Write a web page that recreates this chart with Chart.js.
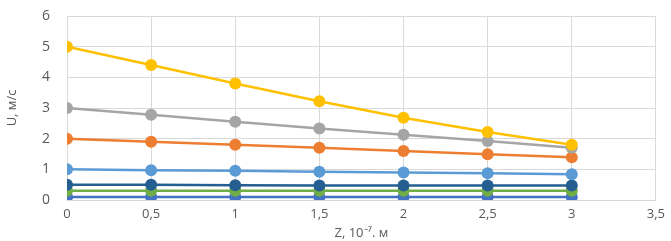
<!DOCTYPE html>
<html>
<head>
<meta charset="utf-8">
<script src="https://cdn.jsdelivr.net/npm/chart.js@4/dist/chart.umd.min.js"></script>
<style>
  html, body { margin: 0; padding: 0; background: #fff; }
  #wrap { width: 671px; height: 241px; }
</style>
</head>
<body>
<div id="wrap"><canvas id="chart" width="671" height="241"></canvas></div>
<script>
// positions along Z, 10^-7 m
const zValues = [0, 0.5, 1, 1.5, 2, 2.5, 3];

// U, m/s for each curve
const seriesYellow = [5, 4.4, 3.8, 3.22, 2.68, 2.22, 1.8];
const seriesGray = [3, 2.78, 2.55, 2.33, 2.13, 1.92, 1.7];
const seriesOrange = [2, 1.9, 1.8, 1.7, 1.6, 1.49, 1.39];
const seriesLightBlue = [1, 0.97, 0.95, 0.92, 0.9, 0.87, 0.84];
const seriesDarkBlue = [0.5, 0.5, 0.48, 0.47, 0.47, 0.47, 0.47];
const seriesGreen = [0.3, 0.3, 0.3, 0.3, 0.3, 0.3, 0.3];
const seriesBlue = [0.1, 0.1, 0.1, 0.1, 0.1, 0.1, 0.1];

const xTicks = [0, 0.5, 1, 1.5, 2, 2.5, 3, 3.5];
const yTicks = [0, 1, 2, 3, 4, 5, 6];

const textColor = '#595959';
const gridColor = '#d9d9d9';
const fontFamily = '"Open Sans", "Liberation Sans", sans-serif';

function makeSeries(values, color) {
    return {
        data: values.map((v, i) => ({ x: zValues[i], y: v })),
        borderColor: color,
        backgroundColor: color,
        borderWidth: 2.5,
        pointRadius: 6,
        pointHoverRadius: 6,
        pointBorderWidth: 0,
        tension: 0
    };
}

new Chart(document.getElementById('chart'), {
    type: 'line',
    data: {
        datasets: [
            makeSeries(seriesYellow, '#ffc000'),
            makeSeries(seriesGray, '#a5a5a5'),
            makeSeries(seriesOrange, '#ed7d31'),
            makeSeries(seriesLightBlue, '#5b9bd5'),
            makeSeries(seriesDarkBlue, '#255e91'),
            makeSeries(seriesGreen, '#70ad47'),
            makeSeries(seriesBlue, '#4472c4')
        ]
    },
    options: {
        responsive: false,
        animation: false,
        layout: { padding: { left: 4, right: 14, top: 16, bottom: 0 } },
        plugins: {
            legend: { display: false },
            tooltip: { enabled: false }
        },
        scales: {
            x: {
                type: 'linear',
                min: 0,
                max: 3.5,
                afterBuildTicks: axis => { axis.ticks = xTicks.map(v => ({ value: v })); },
                afterFit: axis => { axis.height = 41; },
                grid: { color: gridColor, drawTicks: false },
                border: { color: gridColor },
                ticks: {
                    color: textColor,
                    padding: 6,
                    maxRotation: 0,
                    font: { family: fontFamily, size: 13 },
                    callback: v => String(v).replace('.', ',')
                },
                title: {
                    display: true,
                    text: 'Z, 10\u207B\u2077. м',
                    color: textColor,
                    padding: { top: 0, bottom: 0 },
                    font: { family: fontFamily, size: 13 }
                }
            },
            y: {
                min: 0,
                max: 6,
                afterBuildTicks: axis => { axis.ticks = yTicks.map(v => ({ value: v })); },
                afterFit: axis => {
                    axis.width = 63;
                    axis.paddingTop = 8;
                    axis.paddingBottom = 8;
                },
                grid: { color: gridColor, drawTicks: false },
                border: { color: gridColor },
                ticks: {
                    color: textColor,
                    padding: 17,
                    font: { family: fontFamily, size: 14 }
                },
                title: {
                    display: true,
                    text: 'U, м/с',
                    color: textColor,
                    padding: { top: 0, bottom: 10 },
                    font: { family: fontFamily, size: 13 }
                }
            }
        }
    }
});
</script>
</body>
</html>
